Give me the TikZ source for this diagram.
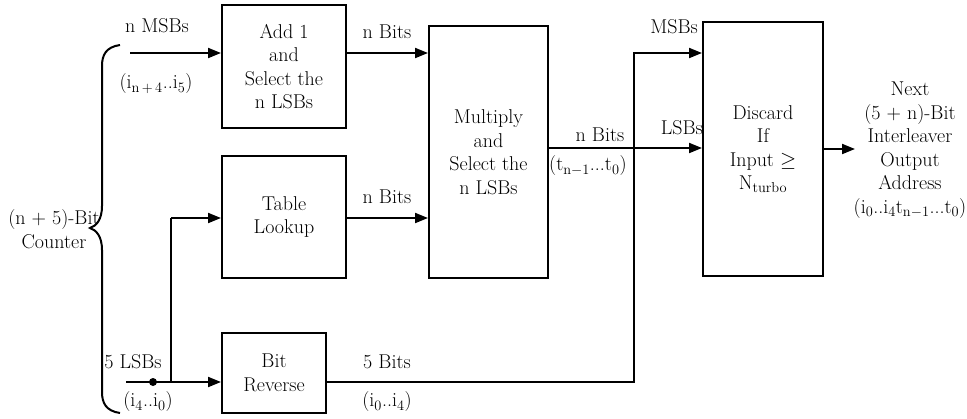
\documentclass[tikz,border=0pt]{standalone}
\usetikzlibrary{arrows.meta}
\newcommand\dfont{\fontsize{20}{23.5}\selectfont}
\tikzset{
 blk/.style={draw, line width=2pt, inner sep=0pt, align=center, font=\dfont},
 lbl/.style={inner sep=0pt, align=center, font=\dfont},
 arr/.style={line width=2pt, -{Triangle[length=13pt,width=10pt]}},
 wire/.style={line width=2pt},
}
\begin{document}
\begin{tikzpicture}[x=1pt,y=-1pt]
\useasboundingbox (0,0) rectangle (967,418);
% blocks
\node[blk, minimum width=124pt, minimum height=123pt] (add) at (284,66.5) {Add 1\\and\\Select the\\n LSBs};
\node[blk, minimum width=119pt, minimum height=252pt] (mult) at (488.5,152) {Multiply\\and\\Select the\\n LSBs};
\node[blk, minimum width=124pt, minimum height=122pt] (tab) at (284,217) {Table\\Lookup};
\node[blk, minimum width=104pt, minimum height=80pt] (rev) at (274,373) {Bit\\Reverse};
\node[blk, minimum width=120pt, minimum height=254pt] (disc) at (763,149) {Discard\\If\\Input $\geq$\\N$_{\mathrm{turbo}}$};
% brace
\draw[wire] (120,45) .. controls (106,47) and (102,55) .. (102,66) -- (102,206)
  .. controls (102,220) and (96,226) .. (90,228)
  .. controls (96,230) and (102,236) .. (102,250) -- (102,392)
  .. controls (102,403) and (106,411) .. (120,413);
% connectors
\coordinate (msb) at (130,53);
\coordinate (tabin) at (171,218);
\coordinate (lsb) at (126,382);
\coordinate (tap) at (171,382);
\coordinate (mo) at (548,148);
\coordinate (jx) at (634,382);
\coordinate (jt) at (634,53);
\coordinate (oend) at (855,149);
\node[circle, fill, inner sep=0pt, minimum size=8pt] (dot) at (153,382) {};
\draw[arr] (msb) -- (msb -| add.west);
\draw[arr] (add.east |- msb) -- (mult.west |- msb);
\draw[arr] (lsb) -- (lsb -| rev.west);
\draw[wire] (tap) -- (tabin);
\draw[arr] (tabin) -- (tabin -| tab.west);
\draw[arr] (tab.east |- tabin) -- (mult.west |- tabin);
\draw[arr] (mult.east |- mo) -- (disc.west |- mo);
\draw[arr] (rev.east |- jx) -- (jx) -- (jt) -- (jt -| disc.west);
\draw[arr] (disc.east |- oend) -- (oend);
% labels
\node[lbl] (lmsb) at (157,26) {n MSBs};
\node[lbl] (lmsbi) at (156,84) {(i$_{\mathrm{n\,+\,4}}$..i$_5$)};
\node[lbl] (nb1) at (387,32) {n Bits};
\node[lbl] (nb2) at (387,197) {n Bits};
\node[lbl] (cnt) at (54,229) {(n + 5)-Bit\\Counter};
\node[lbl] (l5) at (133,362) {5 LSBs};
\node[lbl] (l5i) at (148,402) {(i$_4$..i$_0$)};
\node[lbl] (b5) at (387,362) {5 Bits};
\node[lbl] (b5i) at (387,402) {(i$_0$..i$_4$)};
\node[lbl, anchor=east] (lm) at (698,27) {MSBs};
\node[lbl, anchor=east] (ll) at (703,128) {LSBs};
\node[lbl] (nb3) at (600,135) {n Bits};
\node[lbl, anchor=west] (tt) at (549,166) {(t$_{\mathrm{n}-1}$...t$_0$)};
\node[lbl] (out) at (910,150) {Next\\(5 + n)-Bit\\Interleaver\\Output\\Address\\(i$_0$..i$_4$t$_{\mathrm{n}-1}$...t$_0$)};
\end{tikzpicture}
\end{document}
